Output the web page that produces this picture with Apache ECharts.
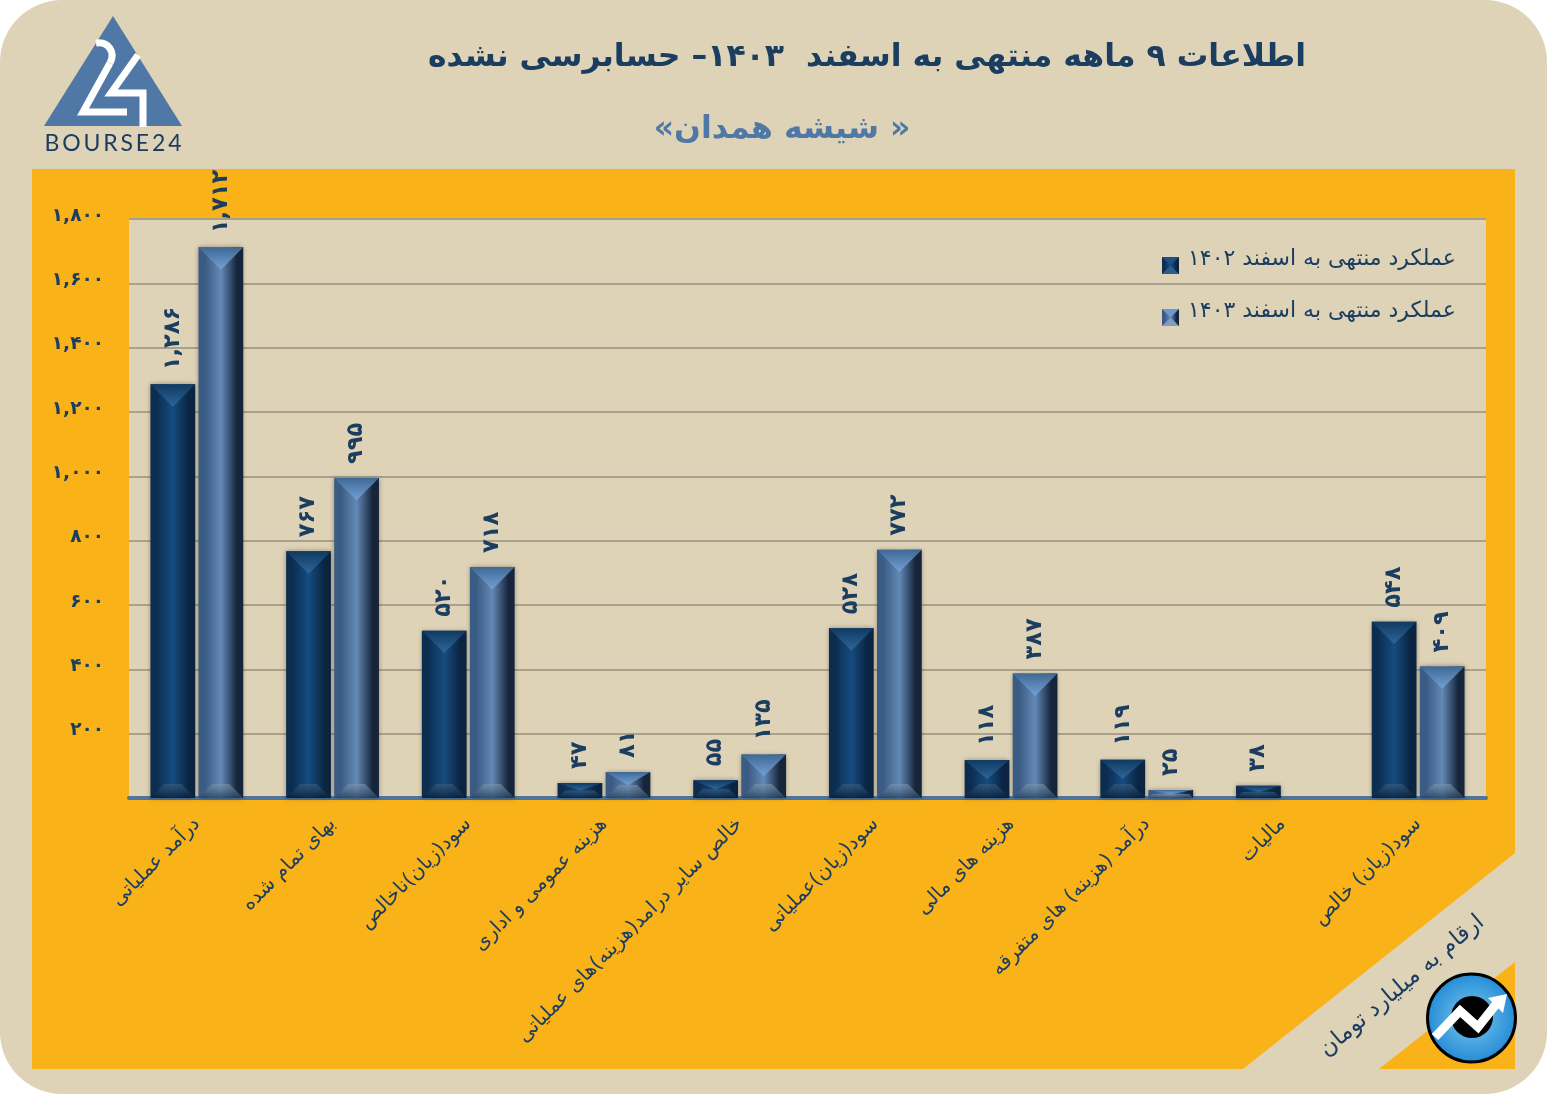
<!DOCTYPE html>
<html><head><meta charset="utf-8">
<style>html,body{margin:0;padding:0;background:#fff}#c{width:1547px;height:1094px}</style>
<script src="https://cdn.jsdelivr.net/npm/echarts@6/dist/echarts.min.js"></script>
</head><body><div id="c"></div>
<script>
const categories = ['درآمد عملیاتی','بهای تمام شده','سود(زیان)ناخالص','هزینه عمومی و اداری','خالص سایر درامد(هزینه)های عملیاتی','سود(زیان)عملیاتی','هزینه های مالی','درآمد (هزینه) های متفرقه','مالیات','سود(زیان) خالص'];
const values1402 = [1286,767,520,47,55,528,118,119,38,548];
const values1403 = [1712,995,718,81,135,772,387,25,null,409];
const name1402 = 'عملکرد منتهی به اسفند ۱۴۰۲';
const name1403 = 'عملکرد منتهی به اسفند ۱۴۰۳';
const titleText = 'اطلاعات ۹ ماهه منتهی به اسفند  ۱۴۰۳– حسابرسی نشده';
const subtitleText = '\u200f« شیشه همدان»\u200f';
const unitText = 'ارقام به میلیارد تومان';

const FONT = '"DejaVu Sans"';
const NAVY = '#1b3d60', STEEL = '#4f78a6', BEIGE = '#dfd3b7', ORANGE = '#f9b218';
const BAR_RATIO = 0.33, GAP_RATIO = 0.012;
const fa = n => String(n).replace(/\B(?=(\d{3})+$)/g, ',').replace(/\d/g, d => '۰۱۲۳۴۵۶۷۸۹'[d]);

const hGrad = (a,b,c) => ({type:'linear',x:0,y:0,x2:1,y2:0,colorStops:[{offset:0,color:a},{offset:.14,color:a},{offset:.5,color:b},{offset:.86,color:c},{offset:1,color:c}]});
const vGrad = (a,b) => ({type:'linear',x:0,y:0,x2:0,y2:1,colorStops:[{offset:0,color:a},{offset:1,color:b}]});
const fill1402 = hGrad('#0c2d50','#164c80','#0a2441');
const fill1403 = hGrad('#3a5b83','#6389b6','#16253a');
const barLabel = {show:true,position:'top',distance:14,rotate:90,align:'left',verticalAlign:'middle',
  fontFamily:FONT,fontWeight:'bold',fontSize:22.5,color:NAVY,formatter:p=>fa(p.value)};

function bevel(side, topA, topB, botA, botB){
  return function(params, api){
    const i = api.value(0), v = api.value(1);
    if (!(v > 0)) return;
    const band = api.size([1,0])[0], c = api.coord([i,0])[0], y0 = api.coord([i,0])[1], y1 = api.coord([i,v])[1];
    const w = band*BAR_RATIO, g = band*GAP_RATIO;
    const l = side < 0 ? c-g-w : c+g, r = l+w, m = (l+r)/2, h = y0-y1, d = Math.min(w/2,h/2), e = Math.min(14,h/2);
    return {type:'group',children:[
      {type:'polygon',shape:{points:[[l,y1],[r,y1],[m,y1+d]]},style:{fill:vGrad(topA,topB)},silent:true},
      {type:'polygon',shape:{points:[[l,y0],[r,y0],[r-e,y0-e],[l+e,y0-e]]},style:{fill:vGrad(botA,botB)},silent:true}
    ]};
  };
}
const toPoints = arr => arr.map((v,i)=>[i,v]);

const chart = echarts.init(document.getElementById('c'),null,{renderer:'canvas'});
chart.setOption({
  animation:false,
  backgroundColor:'#fff',
  grid:{left:129,right:61,top:219,bottom:296,show:true,backgroundColor:BEIGE,borderWidth:0},
  xAxis:{type:'category',data:categories,
    axisLine:{show:true,lineStyle:{color:'#4f759d',width:4}},axisTick:{show:false},
    axisLabel:{interval:0,rotate:45,margin:23,fontFamily:FONT,fontSize:20,color:NAVY}},
  yAxis:{type:'value',min:0,max:1800,interval:200,
    axisLine:{show:false},axisTick:{show:false},
    splitLine:{lineStyle:{color:'#a9a18d',width:2}},
    axisLabel:{margin:25,verticalAlign:'bottom',lineHeight:6,fontFamily:FONT,fontWeight:'bold',fontSize:18.5,color:NAVY,
      formatter:v=>v===0?'':fa(v)}},
  legend:{data:[name1402,name1403],orient:'vertical',left:1162,top:245,padding:0,itemWidth:17,itemHeight:29,itemGap:23,
    selectedMode:false,icon:'path://M0 0L17 0L17 0ZM0 12L17 12L17 29L0 29Z',
    textStyle:{fontFamily:FONT,fontSize:22,color:NAVY,padding:[0,0,0,4]}},
  series:[
    {name:name1402,type:'bar',data:values1402,barWidth:(BAR_RATIO*100)+'%',barGap:(GAP_RATIO*2/BAR_RATIO*100)+'%',z:2,
      itemStyle:{color:fill1402,shadowBlur:5,shadowColor:'rgba(0,0,0,.35)'},label:barLabel},
    {name:name1403,type:'bar',data:values1403,barWidth:(BAR_RATIO*100)+'%',z:2,
      itemStyle:{color:fill1403,shadowBlur:5,shadowColor:'rgba(0,0,0,.35)'},label:barLabel},
    {type:'custom',name:'bevel1402',data:toPoints(values1402),encode:{x:0,y:1},z:3,silent:true,
      renderItem:bevel(-1,'#0f3a63','#2f6798','rgba(60,95,125,.6)','rgba(8,30,55,.8)')},
    {type:'custom',name:'bevel1403',data:toPoints(values1403),encode:{x:0,y:1},z:3,silent:true,
      renderItem:bevel(1,'#3f6995','#74a0d4','rgba(125,150,175,.6)','rgba(40,65,95,.8)')}
  ],
  graphic:[
    {type:'rect',z:-10,shape:{x:0,y:0,width:1547,height:1094,r:62},style:{fill:BEIGE}},
    {type:'polygon',z:-9,shape:{points:[[32,169],[1515,169],[1515,853],[1243,1069],[32,1069]]},style:{fill:ORANGE}},
    {type:'polygon',z:-9,shape:{points:[[1515,962],[1515,1069],[1379,1069]]},style:{fill:ORANGE}},
    {type:'text',z:10,style:{x:867,y:58,text:titleText,align:'center',verticalAlign:'middle',font:'bold 31.5px '+FONT,fill:NAVY}},
    {type:'text',z:10,style:{x:782,y:130,text:subtitleText,align:'center',verticalAlign:'middle',font:'bold 31.5px '+FONT,fill:STEEL}},
    {type:'text',z:10,x:1402,y:986,rotation:Math.PI*40/180,originX:0,originY:0,
      style:{x:0,y:0,text:unitText,align:'center',verticalAlign:'middle',font:'23px '+FONT,fill:NAVY}},
    {type:'polygon',z:20,shape:{points:[[1162,257],[1179,257],[1170.5,265.5]]},style:{fill:'#1e4f80'}},
    {type:'polygon',z:20,shape:{points:[[1162,274],[1179,274],[1170.5,265.5]]},style:{fill:'#2a5c8c'}},
    {type:'polygon',z:20,shape:{points:[[1162,309],[1179,309],[1170.5,317.5]]},style:{fill:'#6d9bd0'}},
    {type:'polygon',z:20,shape:{points:[[1162,326],[1179,326],[1170.5,317.5]]},style:{fill:'#7f9dc0'}},
    {type:'polygon',z:10,shape:{points:[[113,16],[182,126],[44,126]]},style:{fill:STEEL}},
    {type:'bezierCurve',z:11,shape:{x1:96,y1:43,cpx1:108,cpy1:41,cpx2:116,cpy2:52,x2:110,y2:63},style:{fill:'none',stroke:'#fff',lineWidth:7}},
    {type:'polyline',z:11,shape:{points:[[110,63],[83,112],[127,112]]},style:{fill:'none',stroke:'#fff',lineWidth:7}},
    {type:'polyline',z:11,shape:{points:[[138,55],[111,93],[143,93],[143,127]]},style:{fill:'none',stroke:'#fff',lineWidth:7}},
    {type:'text',z:10,style:{x:113,y:144,text:'B\u2009O\u2009U\u2009R\u2009S\u2009E\u20092\u20094',align:'center',verticalAlign:'middle',font:'23px Lato',fill:NAVY}},
    {type:'circle',z:10,shape:{cx:1471.5,cy:1018,r:44},style:{fill:{type:'radial',x:.5,y:.5,r:.55,colorStops:[{offset:0,color:'#7cc6f0'},{offset:1,color:'#1a86d2'}]},stroke:'#000',lineWidth:3}},
    {type:'circle',z:11,shape:{cx:1472,cy:1017,r:21},style:{fill:'#000'}},
    {type:'polyline',z:12,shape:{points:[[1435,1037],[1460,1011],[1478,1027],[1497,1003]]},style:{fill:'none',stroke:'#fff',lineWidth:9,lineJoin:'miter'}},
    {type:'polygon',z:12,shape:{points:[[1488,998],[1507,994],[1503,1013]]},style:{fill:'#fff'}}
  ]
});
</script></body></html>
